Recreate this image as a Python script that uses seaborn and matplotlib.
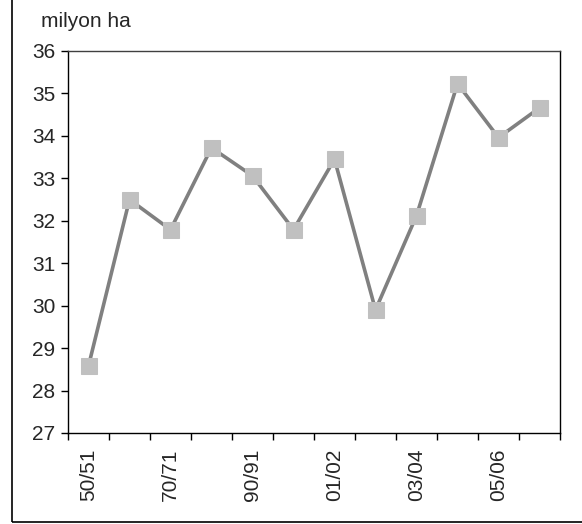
import matplotlib
matplotlib.use("Agg")
import matplotlib.pyplot as plt
import seaborn as sns
import pandas as pd
from matplotlib.patches import Rectangle

seasons = ["50/51", "60/61", "70/71", "80/81", "90/91", "00/01",
           "01/02", "02/03", "03/04", "04/05", "05/06", "06/07"]
area = [28.58, 32.5, 31.79, 33.72, 33.06, 31.79,
        33.45, 29.9, 32.12, 35.23, 33.96, 34.66]
shown_labels = ["50/51", "70/71", "90/91", "01/02", "03/04", "05/06"]
y_ticks = list(range(27, 37))
unit_label = "milyon ha"

sns.set_theme(style="white")
plt.rcParams['font.family'] = ['Liberation Sans', 'DejaVu Sans']

df = pd.DataFrame({"season": seasons, "area": area, "pos": range(len(seasons))})

fig = plt.figure(figsize=(5.82, 5.24), dpi=100)
ax = fig.add_axes([68/582, (524-433)/524, (560-68)/582, (433-51)/524])

sns.lineplot(data=df, x="pos", y="area", ax=ax, color="#808080", linewidth=2.6,
             marker="s", markersize=11.5, markerfacecolor="#c0c0c0",
             markeredgecolor="#c0c0c0", zorder=3)

ax.set_xlim(-0.5, len(seasons) - 0.5)
ax.set_ylim(27, 36)
ax.set_yticks(y_ticks)
ax.set_yticklabels([str(v) for v in y_ticks], fontsize=15)

# tick marks between categories
ax.set_xticks([i - 0.5 for i in range(len(seasons) + 1)], minor=False)
ax.set_xticklabels([])
ax.set_xticks([i for i, s in enumerate(seasons) if s in shown_labels], minor=True)
ax.set_xticklabels(shown_labels, minor=True, rotation=90, fontsize=15)
ax.tick_params(axis="x", which="major", direction="out", length=5, width=1, color="black", bottom=True)
ax.tick_params(axis="x", which="minor", length=0, pad=11)
ax.tick_params(axis="y", direction="out", length=5, width=1, color="black", left=True, pad=4)

ax.set_xlabel("")
ax.set_ylabel("")
for side in ["left", "bottom", "right", "top"]:
    ax.spines[side].set_visible(True)
    ax.spines[side].set_color("black")
    ax.spines[side].set_linewidth(1)
ax.spines["top"].set_color("#404040")
ax.grid(False)

fig.text(41/582, 1 - 27/524, unit_label, fontsize=15, ha="left", va="baseline")

# outer chart frame
fig.patches.append(Rectangle((12/582, 2/524), 1.0, 1.0, transform=fig.transFigure,
                             fill=False, edgecolor="black", linewidth=1.2))

fig.savefig("out.png", dpi=100)
